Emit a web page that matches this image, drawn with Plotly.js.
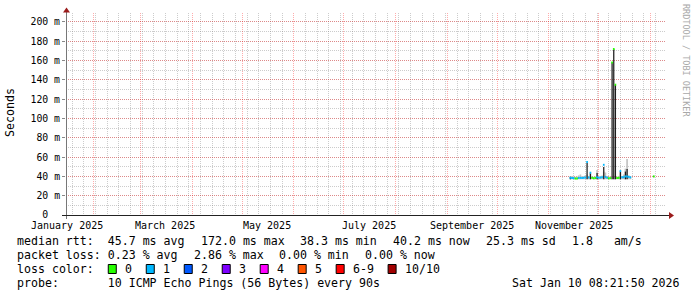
<!DOCTYPE html>
<html><head><meta charset="utf-8">
<script src="https://cdn.plot.ly/plotly-3.0.1.min.js"></script>
<style>html,body{margin:0;padding:0;background:#fff}#chart{width:697px;height:297px}</style>
</head><body><div id="chart"></div>
<script>
// ---------------- data ----------------
const rangeStart = "2025-01-15 08:21:50";
const rangeEnd   = "2026-01-10 08:21:50";

const days = [
  "2025-11-14","2025-11-15","2025-11-16","2025-11-17","2025-11-18","2025-11-19","2025-11-20",
  "2025-11-21","2025-11-22","2025-11-23","2025-11-24","2025-11-25","2025-11-26","2025-11-27",
  "2025-11-28","2025-11-29","2025-11-30","2025-12-01","2025-12-02","2025-12-03","2025-12-04",
  "2025-12-05","2025-12-06","2025-12-07","2025-12-08","2025-12-09","2025-12-10","2025-12-11",
  "2025-12-12","2025-12-13","2025-12-14","2025-12-15","2025-12-16","2025-12-17","2025-12-18",
  "2025-12-19","2025-12-20","2026-01-03"
];
const medianRtt = [
  38.6,38.3,38.2,37.8,37.9,38.4,38.5,
  38.3,38.6,38.8,55.0,38.9,43.8,38.5,
  38.0,38.3,39.0,38.6,38.8,39.0,52.0,
  39.5,38.5,38.0,38.2,158.0,172.0,135.0,
  38.3,38.5,45.5,39.0,39.2,40.0,40.0,
  39.5,39.0,40.0
];
const lossCount = [
  1,1,1,0,0,1,1,
  1,1,1,1,1,1,0,
  0,0,1,1,1,1,1,
  1,1,0,0,0,0,0,
  0,0,1,1,1,1,1,
  1,1,0
];
const smokeLow = [
  37.0,37.0,37.0,37.0,37.0,37.0,37.0,
  37.0,37.0,37.0,37.0,37.0,37.0,37.0,
  37.0,37.0,37.0,37.0,37.0,37.0,37.0,
  37.0,37.0,37.0,37.0,37.0,37.0,37.0,
  37.0,37.0,37.0,37.0,37.0,37.0,37.0,
  37.0,37.0,39.0
];
const smokeHigh = [
  40.0,40.5,40.0,39.5,40.0,41.0,42.0,
  40.5,40.0,41.0,42.0,40.5,44.0,40.0,
  39.5,40.0,46.6,40.0,40.5,41.0,45.0,
  44.0,40.5,39.5,40.0,40.0,40.0,40.0,
  40.0,40.5,44.0,40.5,42.0,48.0,58.0,
  41.0,40.0,40.5
];
const darkHigh = [
  39.5,null,null,null,null,null,null,
  null,null,null,54.0,null,43.0,null,
  null,null,43.5,null,null,null,49.7,
  null,null,null,null,158.0,172.0,135.0,
  null,null,45.3,null,null,45.0,47.7,
  null,null,null
];

const yTickVals = [0,20,40,60,80,100,120,140,160,180,200];
const yTickText = ["0\u00a0\u00a0","20 m","40 m","60 m","80 m","100 m","120 m","140 m","160 m","180 m","200 m"];

const monthLabels = ["January 2025","March 2025","May 2025","July 2025","September 2025","November 2025"];
const monthLabelDates = ["2025-01-16","2025-03-16","2025-05-16","2025-07-16","2025-09-16","2025-11-16"];

const lossLabels = ["0","1","2","3","4","5","6-9","10/10"];
const lossColors = ["#26ff00","#00b8ff","#0059ff","#7e00ff","#ff00ff","#ff5500","#ff0000","#a10000"];

const medianPieces = ["median rtt:  45.7 ms avg","172.0 ms max","38.3 ms min","40.2 ms now","25.3 ms sd","1.8   am/s"];
const lossPieces   = ["packet loss: 0.23 % avg","2.86 % max","0.00 % min","0.00 % now"];
const lossTitle    = "loss color:";
const probeText    = "probe:       10 ICMP Echo Pings (56 Bytes) every 90s";
const dateText     = "Sat Jan 10 08:21:50 2026";
const yTitle       = "Seconds";
const watermark    = "RRDTOOL / TOBI OETIKER";

// ---------------- layout helpers ----------------
const W = 697, H = 297, ML = 66, MR = 31, MT = 13, MB = 82;
const PW = W - ML - MR, PH = H - MT - MB;
const px = v => (v - ML) / PW;
const py = v => (H - MB - v) / PH;
const mono = "DejaVu Sans Mono";
const nb = s => s.replace(/ /g, "\u00a0");
const DAY = 86400000;
const YMAX = 209.3;
const pxPerUnit = PH / YMAX;
const CH = 6.98;      // legend char advance
const GAP = 16;       // rrdtool legend item gap

const traces = [
  { type: "bar", x: days, base: smokeLow, y: smokeHigh.map((v,i)=>v - smokeLow[i]),
    width: DAY, marker: { color: "#c2c2c2", line: { width: 0 } }, hoverinfo: "skip" },
  { type: "bar", x: days, base: smokeLow, y: darkHigh.map((v,i)=> v === null ? null : v - smokeLow[i]),
    width: 0.75 * DAY, marker: { color: "#1c1c1c", line: { width: 0 } }, hoverinfo: "skip" },
  { type: "bar", x: days, base: medianRtt.map(v => v - 1 / pxPerUnit), y: medianRtt.map(() => 2 / pxPerUnit),
    width: DAY, marker: { color: lossCount.map(c => lossColors[c]), line: { width: 0 } }, hoverinfo: "skip" }
];

const annotations = [];
monthLabels.forEach((t, i) => annotations.push({
  text: t, x: monthLabelDates[i], xref: "x", y: py(225.5), yref: "paper",
  xanchor: "center", yanchor: "middle", showarrow: false, borderpad: 0,
  font: { family: mono, size: 10, color: "#000" }
}));
const leg = (t, x, y, anchor) => annotations.push({
  text: nb(t), x: px(x), xref: "paper", y: py(y), yref: "paper",
  xanchor: anchor || "left", yanchor: "middle", showarrow: false, borderpad: 0,
  font: { family: mono, size: 11.6, color: "#000" }
});
let lx = 16;
medianPieces.forEach(t => { leg(t, lx, 241); lx += t.length * CH + GAP; });
lx = 16;
lossPieces.forEach(t => { leg(t, lx, 255); lx += t.length * CH + GAP; });
leg(lossTitle, 16, 269);
leg(probeText, 16, 283);
leg(dateText, 681, 283, "right");

const shapes = [];
let sx = 16 + lossTitle.length * CH + GAP - 1;
lossLabels.forEach((t, i) => {
  shapes.push({ type: "rect", xref: "paper", yref: "paper",
    x0: px(sx + 0.5), x1: px(sx + 8.5), y0: py(273.5), y1: py(264.5),
    fillcolor: lossColors[i], line: { color: "#000", width: 1 } });
  leg(t, sx + 16, 269);
  sx += 16 + t.length * CH + GAP - 1;
});

annotations.push({
  text: yTitle, x: px(10), xref: "paper", y: py(113), yref: "paper", textangle: -90,
  xanchor: "center", yanchor: "middle", showarrow: false, borderpad: 0,
  font: { family: mono, size: 11.6, color: "#000" }
});
annotations.push({
  text: nb(watermark), x: px(686), xref: "paper", y: py(60), yref: "paper", textangle: 90,
  xanchor: "center", yanchor: "middle", showarrow: false, borderpad: 0,
  font: { family: mono, size: 8.5, color: "#a8a8a8" }
});

// axes lines and arrows
shapes.push({ type: "line", xref: "paper", yref: "paper", x0: px(66.5), x1: px(66.5), y0: py(219), y1: py(12),
  line: { color: "#777", width: 1 }, layer: "above" });
shapes.push({ type: "line", xref: "paper", yref: "paper", x0: px(62), x1: px(669), y0: py(215.5), y1: py(215.5),
  line: { color: "#222", width: 1 }, layer: "above" });
shapes.push({ type: "path", xref: "paper", yref: "paper",
  path: `M ${px(66.5)} ${py(7.5)} L ${px(70)} ${py(12.5)} L ${px(63)} ${py(12.5)} Z`,
  fillcolor: "#9b1c1c", line: { width: 0 }, layer: "above" });
shapes.push({ type: "path", xref: "paper", yref: "paper",
  path: `M ${px(674)} ${py(215.5)} L ${px(669)} ${py(212)} L ${px(669)} ${py(219)} Z`,
  fillcolor: "#9b1c1c", line: { width: 0 }, layer: "above" });

const layout = {
  width: W, height: H, margin: { l: ML, r: MR, t: MT, b: MB, pad: 0 },
  paper_bgcolor: "#fff", plot_bgcolor: "#fff", showlegend: false, barmode: "overlay",
  xaxis: {
    type: "date", range: [rangeStart, rangeEnd], showticklabels: false, ticks: "",
    showline: false, zeroline: false,
    tick0: "2025-01-01", dtick: "M1", showgrid: true, gridcolor: "rgba(255,0,0,0.33)", griddash: "1px,1px", gridwidth: 1,
    minor: { tick0: "2025-01-19", dtick: 7 * DAY, showgrid: true, gridcolor: "rgba(128,128,128,0.4)", griddash: "1px,1px", gridwidth: 1, ticks: "" }
  },
  yaxis: {
    range: [0, YMAX], tickmode: "array", tickvals: yTickVals, ticktext: yTickText,
    ticks: "outside", ticklen: 3, tickcolor: "#888", tickwidth: 1,
    tickfont: { family: mono, size: 9.8, color: "#000" },
    showline: false, zeroline: false,
    showgrid: true, gridcolor: "rgba(255,0,0,0.33)", griddash: "1px,1px", gridwidth: 1,
    minor: { tick0: 0, dtick: 10, showgrid: true, gridcolor: "rgba(128,128,128,0.4)", griddash: "1px,1px", gridwidth: 1, ticks: "" }
  },
  shapes: shapes, annotations: annotations
};

Plotly.newPlot("chart", traces, layout, { staticPlot: true, displayModeBar: false });
</script>
</body></html>
